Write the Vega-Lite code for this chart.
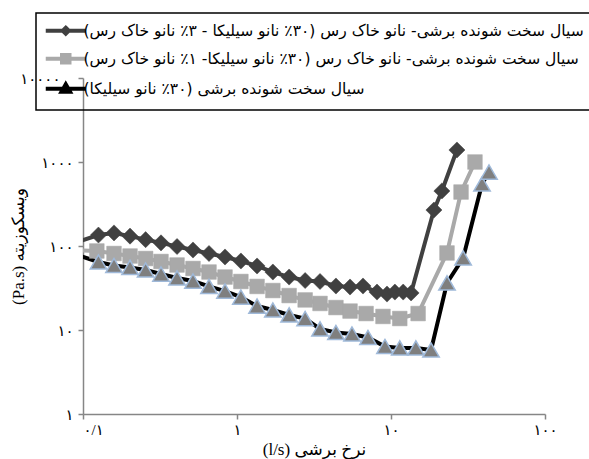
{
  "$schema": "https://vega.github.io/schema/vega-lite/v6.json",
  "width": 462,
  "height": 336,
  "autosize": "none",
  "padding": {"left": 83, "top": 78, "right": 44, "bottom": 45},
  "background": "white",
  "config": {
    "view": {"stroke": null},
    "axis": {"grid": false, "domainColor": "#868686", "domainWidth": 1.5, "tickColor": "#868686", "tickWidth": 1.5, "tickSize": 5, "labelColor": "black", "titleColor": "black", "labelFont": "Liberation Serif, DejaVu Sans", "titleFont": "Liberation Serif, DejaVu Sans", "labelFontSize": 15, "titleFontSize": 17, "titleFontWeight": "normal", "labelOverlap": false, "zindex": 1}
  },
  "data": {
    "values": [
      {"s": "A", "x": 0.08, "y": 103}, {"s": "A", "x": 0.126, "y": 135}, {"s": "A", "x": 0.159, "y": 143}, {"s": "A", "x": 0.202, "y": 131}, {"s": "A", "x": 0.255, "y": 119}, {"s": "A", "x": 0.321, "y": 109}, {"s": "A", "x": 0.408, "y": 98.6}, {"s": "A", "x": 0.518, "y": 89.6}, {"s": "A", "x": 0.658, "y": 81.4}, {"s": "A", "x": 0.836, "y": 74}, {"s": "A", "x": 1.06, "y": 66.3}, {"s": "A", "x": 1.35, "y": 57.8}, {"s": "A", "x": 1.71, "y": 49}, {"s": "A", "x": 2.18, "y": 42.7}, {"s": "A", "x": 2.77, "y": 38.8}, {"s": "A", "x": 3.46, "y": 37.8}, {"s": "A", "x": 4.39, "y": 33.4}, {"s": "A", "x": 5.42, "y": 32.5}, {"s": "A", "x": 6.58, "y": 33.4}, {"s": "A", "x": 8.11, "y": 28.3}, {"s": "A", "x": 9.42, "y": 26.8}, {"s": "A", "x": 10.6, "y": 28.3}, {"s": "A", "x": 12.0, "y": 28.3}, {"s": "A", "x": 13.5, "y": 27.6}, {"s": "A", "x": 19.0, "y": 268}, {"s": "A", "x": 21.4, "y": 452}, {"s": "A", "x": 26.8, "y": 1389},
      {"s": "B", "x": 0.08, "y": 89.6}, {"s": "B", "x": 0.123, "y": 87.2}, {"s": "B", "x": 0.159, "y": 81.4}, {"s": "B", "x": 0.202, "y": 76}, {"s": "B", "x": 0.255, "y": 71}, {"s": "B", "x": 0.321, "y": 65.4}, {"s": "B", "x": 0.408, "y": 59.4}, {"s": "B", "x": 0.518, "y": 54}, {"s": "B", "x": 0.658, "y": 49}, {"s": "B", "x": 0.836, "y": 42.7}, {"s": "B", "x": 1.06, "y": 37.8}, {"s": "B", "x": 1.35, "y": 33}, {"s": "B", "x": 1.71, "y": 29.5}, {"s": "B", "x": 2.18, "y": 25.7}, {"s": "B", "x": 2.77, "y": 22.8}, {"s": "B", "x": 3.46, "y": 20.7}, {"s": "B", "x": 4.39, "y": 18.5}, {"s": "B", "x": 5.42, "y": 16.8}, {"s": "B", "x": 6.89, "y": 15.7}, {"s": "B", "x": 8.87, "y": 14.5}, {"s": "B", "x": 11.4, "y": 13.7}, {"s": "B", "x": 15.0, "y": 15.7}, {"s": "B", "x": 23.1, "y": 82.6}, {"s": "B", "x": 28.5, "y": 439}, {"s": "B", "x": 35.1, "y": 1000},
      {"s": "C", "x": 0.08, "y": 84.9}, {"s": "C", "x": 0.126, "y": 64.5}, {"s": "C", "x": 0.159, "y": 58.6}, {"s": "C", "x": 0.202, "y": 55.5}, {"s": "C", "x": 0.255, "y": 51.8}, {"s": "C", "x": 0.321, "y": 46.4}, {"s": "C", "x": 0.408, "y": 41.6}, {"s": "C", "x": 0.518, "y": 38.3}, {"s": "C", "x": 0.658, "y": 33}, {"s": "C", "x": 0.836, "y": 29.1}, {"s": "C", "x": 1.06, "y": 24.7}, {"s": "C", "x": 1.35, "y": 19.3}, {"s": "C", "x": 1.71, "y": 17.3}, {"s": "C", "x": 2.18, "y": 15.1}, {"s": "C", "x": 2.77, "y": 13.7}, {"s": "C", "x": 3.46, "y": 10.3}, {"s": "C", "x": 4.39, "y": 9.34}, {"s": "C", "x": 5.58, "y": 8.96}, {"s": "C", "x": 7.09, "y": 8.14}, {"s": "C", "x": 9.14, "y": 6.36}, {"s": "C", "x": 11.4, "y": 6.11}, {"s": "C", "x": 14.5, "y": 6.11}, {"s": "C", "x": 18.2, "y": 5.78}, {"s": "C", "x": 23.1, "y": 36.3}, {"s": "C", "x": 29.4, "y": 72}, {"s": "C", "x": 39.0, "y": 547}, {"s": "C", "x": 43.3, "y": 760}
    ]
  },
  "encoding": {
    "x": {
      "field": "x", "type": "quantitative",
      "scale": {"type": "log", "domain": [0.1, 100], "nice": false},
      "axis": {
        "values": [0.1, 1, 10, 100],
        "labelExpr": "datum.value < 0.5 ? '۰/۱' : datum.value < 5 ? '۱' : datum.value < 50 ? '۱۰' : '۱۰۰'",
        "labelFlush": false,
        "labelAlign": {"condition": {"test": "datum.value < 0.5", "value": "left"}, "value": "center"},
        "labelPadding": 3,
        "title": "(l/s) نرخ برشی",
        "titlePadding": 4
      }
    },
    "y": {
      "field": "y", "type": "quantitative",
      "scale": {"type": "log", "domain": [1, 10000], "nice": false},
      "axis": {
        "values": [1, 10, 100, 1000, 10000],
        "labelExpr": "datum.value < 5 ? '۱' : datum.value < 50 ? '۱۰' : datum.value < 500 ? '۱۰۰' : datum.value < 5000 ? '۱۰۰۰' : '۱۰۰۰۰'",
        "labelPadding": {"condition": {"test": "datum.value > 5000", "value": 18}, "value": 5},
        "labelFlush": false,
        "labelBound": false,
        "title": "(Pa.s) ویسکوزیته",
        "titleX": -56,
        "titleY": 168,
        "titleBaseline": "bottom",
        "titleAlign": "center"
      }
    }
  },
  "layer": [
    {
      "mark": {"type": "line", "clip": true},
      "encoding": {
        "color": {
          "field": "s", "type": "nominal",
          "scale": {"domain": ["A", "B", "C"], "range": ["#404040", "#a9a9a9", "#000000"]},
          "legend": {
            "orient": "none", "legendX": -47, "legendY": -65,
            "title": null,
            "strokeColor": "black",
            "fillColor": null,
            "padding": 10,
            "rowPadding": 5,
            "symbolSize": 100,
            "symbolOffset": 12,
            "labelOffset": 10,
            "labelLimit": 700,
            "labelFont": "DejaVu Sans, Liberation Serif",
            "labelFontSize": 15.5,
            "labelColor": "black",
            "labelExpr": "datum.value === 'A' ? '\u200Fسیال سخت شونده برشی- نانو خاک رس (۳۰٪ نانو سیلیکا - ۳٪ نانو خاک رس)\u200F' : datum.value === 'B' ? '\u200Fسیال سخت شونده برشی- نانو خاک رس (۳۰٪ نانو سیلیکا- ۱٪ نانو خاک رس)\u200F' : '\u200Fسیال سخت شونده برشی (۳۰٪ نانو سیلیکا)\u200F'",
            "encode": {
              "legend": {"update": {"strokeWidth": {"value": 1.5}, "fill": {"value": "transparent"}}},
              "symbols": {
                "update": {
                  "shape": {"signal": "datum.value === 'A' ? 'M-4,0H4M0,-0.6L0.6,0L0,0.6L-0.6,0Z' : datum.value === 'B' ? 'M-4,0H4M-0.75,-0.75H0.75V0.75H-0.75Z' : 'M-4,0H4M0,-0.9L0.85,0.6H-0.85Z'"},
                  "fill": {"signal": "datum.value === 'A' ? '#404040' : datum.value === 'B' ? '#a9a9a9' : '#9fb9d9'"},
                  "stroke": {"signal": "datum.value === 'A' ? '#404040' : datum.value === 'B' ? '#a9a9a9' : '#000000'"},
                  "strokeWidth": {"signal": "datum.value === 'A' ? 3.5 : datum.value === 'B' ? 4.5 : 4"},
                  "size": {"value": 100},
                  "opacity": {"value": 1}
                }
              }
            }
          }
        },
        "strokeWidth": {"field": "s", "type": "ordinal", "scale": {"domain": ["A", "B", "C"], "range": [4, 4, 5]}, "legend": null}
      }
    },
    {
      "transform": [{"filter": {"field": "s", "equal": "A"}}],
      "mark": {"type": "point", "shape": "diamond", "filled": true, "size": 260, "fill": "#404040", "stroke": "#404040", "strokeWidth": 0.5, "opacity": 1, "clip": true}
    },
    {
      "transform": [{"filter": {"field": "s", "equal": "B"}}],
      "mark": {"type": "point", "shape": "square", "filled": true, "size": 215, "fill": "#a9a9a9", "stroke": "#a9a9a9", "strokeWidth": 0.5, "opacity": 1, "clip": true}
    },
    {
      "transform": [{"filter": {"field": "s", "equal": "C"}}],
      "mark": {"type": "point", "shape": "triangle-up", "filled": true, "size": 270, "fill": "#7f7f7f", "stroke": "#9fb9d9", "strokeWidth": 1.5, "opacity": 1, "clip": true}
    }
  ]
}
